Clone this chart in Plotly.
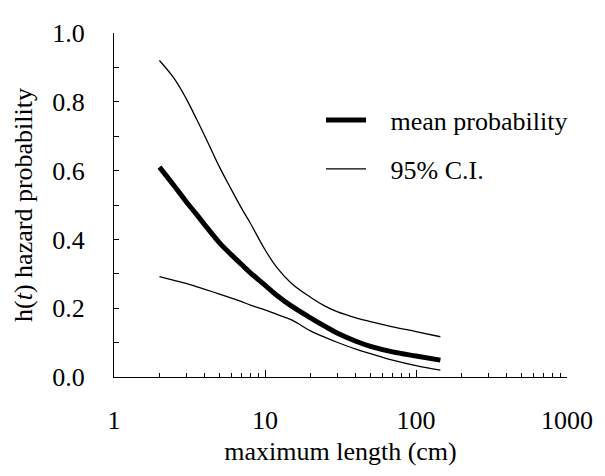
import plotly.graph_objects as go

# data
length_cm = [2, 2.5, 3, 3.5, 4, 5, 6, 7, 8, 10, 12, 15, 20, 25, 30, 40, 50, 70, 100, 145]
mean_prob = [0.61, 0.556, 0.51, 0.474, 0.442, 0.39, 0.355, 0.327, 0.303, 0.267, 0.237, 0.206, 0.172, 0.147, 0.128, 0.104, 0.089, 0.073, 0.061, 0.049]
upper_ci = [0.92, 0.868, 0.81, 0.752, 0.70, 0.61, 0.544, 0.49, 0.447, 0.37, 0.318, 0.272, 0.232, 0.206, 0.19, 0.172, 0.161, 0.146, 0.132, 0.117]
lower_ci = [0.292, 0.281, 0.272, 0.263, 0.255, 0.241, 0.229, 0.219, 0.209, 0.195, 0.182, 0.166, 0.134, 0.115, 0.101, 0.081, 0.068, 0.049, 0.033, 0.02]

x_major = [1, 10, 100, 1000]
x_labels = ["1", "10", "100", "1000"]
x_minor = [2, 3, 4, 5, 6, 7, 8, 9, 20, 30, 40, 50, 60, 70, 80, 90,
           200, 300, 400, 500, 600, 700, 800, 900]
y_major = [0.0, 0.2, 0.4, 0.6, 0.8, 1.0]
y_labels = ["0.0", "0.2", "0.4", "0.6", "0.8", "1.0"]

FONT = "Liberation Serif"
F = dict(family=FONT, size=26, color="black")
GAP = "\u00a0\u00a0\u00a0"

fig = go.Figure()
fig.add_trace(go.Scatter(x=length_cm, y=mean_prob, mode="lines", name=GAP + "mean probability",
                         line=dict(color="black", width=5, shape="spline"), legendgroup="a"))
fig.add_trace(go.Scatter(x=length_cm, y=upper_ci, mode="lines", name=GAP + "95% C.I.",
                         line=dict(color="black", width=1.3, shape="spline"), legendgroup="b"))
fig.add_trace(go.Scatter(x=length_cm, y=lower_ci, mode="lines", name="95% C.I.",
                         line=dict(color="black", width=1.3, shape="spline"), legendgroup="b", showlegend=False))

# the page body adds an 8px offset, so the figure is shrunk and shifted accordingly
fig.update_layout(
    width=597, height=468,
    margin=dict(l=106, r=38, t=25, b=99, autoexpand=False),
    paper_bgcolor="white", plot_bgcolor="white",
    font=F,
    showlegend=True,
    legend=dict(x=0.457, y=0.815, xanchor="left", yanchor="top",
                bgcolor="rgba(0,0,0,0)", font=F,
                tracegroupgap=12, itemwidth=40),
    xaxis=dict(type="log", range=[0, 3], showline=True, linecolor="black", linewidth=1,
               ticks="inside", ticklen=7, tickcolor="black", tickvals=x_major, ticktext=x_labels,
               tickfont=F, automargin=False,
               minor=dict(tickvals=x_minor, ticks="inside", ticklen=4, tickcolor="black"),
               showgrid=False, zeroline=False, ticklabelstandoff=20,
               title=dict(text="maximum length (cm)", standoff=7, font=F)),
    yaxis=dict(range=[0, 1.0], showline=True, linecolor="black", linewidth=1,
               ticks="inside", ticklen=5, tickcolor="black", tickvals=y_major, ticktext=y_labels,
               tickfont=F, automargin=False,
               minor=dict(dtick=0.1, ticks="inside", ticklen=5, tickcolor="black"),
               showgrid=False, zeroline=False, ticklabelstandoff=23,
               title=dict(text="h(<i>t</i>) hazard probability", standoff=12, font=F)),
)

fig.write_html("out.html")
